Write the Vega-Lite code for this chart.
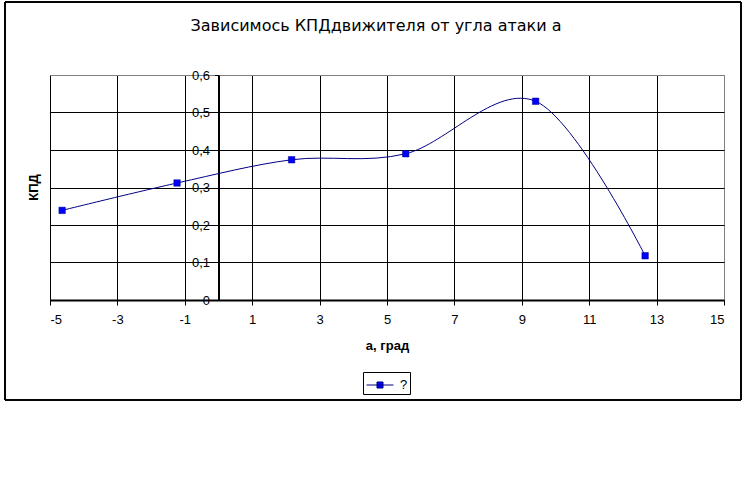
{
  "$schema": "https://vega.github.io/schema/vega-lite/v6.json",
  "width": 674,
  "height": 225,
  "autosize": "none",
  "padding": {"left": 50, "top": 75, "right": 24, "bottom": 180},
  "background": "white",
  "title": {
    "text": "Зависимось КПДдвижителя от угла атаки а",
    "font": "DejaVu Sans",
    "fontSize": 16,
    "fontWeight": "normal",
    "color": "black",
    "anchor": "middle",
    "frame": "group",
    "baseline": "alphabetic",
    "offset": -46,
    "dx": -11
  },
  "config": {
    "view": {"stroke": "#808080", "strokeWidth": 1},
    "axis": {
      "labelFont": "Liberation Sans",
      "labelFontSize": 13,
      "labelColor": "black",
      "titleFont": "Liberation Sans",
      "titleFontSize": 13,
      "titleFontWeight": "bold",
      "titleColor": "black",
      "domainColor": "black",
      "domainWidth": 2,
      "tickColor": "black",
      "tickWidth": 1,
      "gridOpacity": 1,
      "gridWidth": 1
    },
    "legend": {
      "labelFont": "Liberation Sans",
      "labelFontSize": 13,
      "labelColor": "black"
    }
  },
  "data": {
    "values": [
      {"a": -4.64, "kpd": 0.239, "s": "?"},
      {"a": -1.23, "kpd": 0.312, "s": "?"},
      {"a": 2.17, "kpd": 0.374, "s": "?"},
      {"a": 5.555, "kpd": 0.39, "s": "?"},
      {"a": 9.41, "kpd": 0.53, "s": "?"},
      {"a": 12.66, "kpd": 0.118, "s": "?"}
    ]
  },
  "layer": [
    {
      "mark": {"type": "rect", "fill": null, "filled": false, "stroke": "black", "strokeWidth": 1},
      "encoding": {
        "x": {"datum": -6.335, "type": "quantitative"},
        "x2": {"datum": 15.504},
        "y": {"datum": 0.7947, "type": "quantitative"},
        "y2": {"datum": -0.2667}
      }
    },
    {
      "mark": {"type": "line", "interpolate": "cardinal", "color": "#000080", "strokeWidth": 1},
      "encoding": {
        "x": {
          "field": "a",
          "type": "quantitative",
          "scale": {"domain": [-5, 15], "nice": false, "zero": false},
          "axis": {
            "orient": "bottom",
            "values": [-5, -3, -1, 1, 3, 5, 7, 9, 11, 13, 15],
            "tickCount": 20,
            "labelExpr": "'' + datum.value",
            "grid": true,
            "gridColor": {"condition": {"test": "datum.value == 15", "value": "#808080"}, "value": "black"},
            "tickSize": 5,
            "labelPadding": 8,
            "title": "а, град",
            "titlePadding": 13
          }
        },
        "y": {
          "field": "kpd",
          "type": "quantitative",
          "scale": {"domain": [0, 0.6], "nice": false},
          "axis": {
            "orient": "left",
            "values": [0, 0.1, 0.2, 0.3, 0.4, 0.5, 0.6],
            "tickCount": 20,
            "labelExpr": "datum.value == 0 ? '0' : replace(format(datum.value, '.1f'), '.', ',')",
            "offset": -168.5,
            "grid": true,
            "gridColor": {"condition": {"test": "datum.value == 0.6", "value": "#808080"}, "value": "black"},
            "tickSize": 4,
            "labelPadding": 5,
            "title": "КПД",
            "titleX": -178,
            "titleY": 112
          }
        }
      }
    },
    {
      "mark": {"type": "square", "size": 42, "opacity": 1, "filled": true, "stroke": "#000080", "strokeWidth": 0.5},
      "encoding": {
        "x": {"field": "a", "type": "quantitative"},
        "y": {"field": "kpd", "type": "quantitative"},
        "color": {
          "field": "s",
          "type": "nominal",
          "scale": {"range": ["#0000FF"]},
          "legend": {
            "orient": "none",
            "legendX": 313,
            "legendY": 297,
            "title": null,
            "strokeColor": "black",
            "padding": 2,
            "symbolType": "M-1.28,0H1.28M-0.286,-0.286H0.286V0.286H-0.286Z",
            "symbolSize": 441,
            "symbolOffset": 4,
            "symbolStrokeColor": "#000080",
            "symbolStrokeWidth": 1,
            "symbolFillColor": "#0000FF",
            "symbolOpacity": 1,
            "labelOffset": 9
          }
        }
      }
    }
  ]
}
